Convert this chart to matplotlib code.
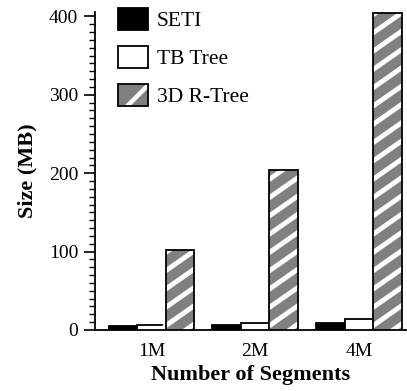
import matplotlib
matplotlib.use("Agg")
import matplotlib.pyplot as plt
import numpy as np
from matplotlib.patches import Patch
from matplotlib.lines import Line2D
from matplotlib.transforms import IdentityTransform
from matplotlib.ticker import MultipleLocator

categories = ["1M", "2M", "4M"]
seti = [5, 7, 9]
tb_tree = [6, 9, 14]
rtree_3d = [102, 204, 404]
series_names = ["SETI", "TB Tree", "3D R-Tree"]

plt.rcParams['font.family'] = ['Liberation Serif', 'DejaVu Serif']
plt.rcParams['hatch.linewidth'] = 3.2

W, H = 407, 391
fig = plt.figure(figsize=(W / 100, H / 100), dpi=100)
ax = fig.add_axes([95 / W, 1 - 330 / H, 1 - 95 / W, (330 - 11.7) / H])

x = np.arange(len(categories))
bw = 0.275
lw = 1.3
grey = '#808080'

ax.set_xlim(-0.545, 2.464)
ax.set_ylim(0, 406)

ax.bar(x - bw, seti, bw, color='black', edgecolor='black', linewidth=lw, zorder=3)
ax.bar(x, tb_tree, bw, color='white', edgecolor='black', linewidth=lw, zorder=3)
rbars = ax.bar(x + bw, rtree_3d, bw, color=grey, edgecolor='none', linewidth=0, zorder=3)
ax.bar(x + bw, rtree_3d, bw, fill=False, edgecolor='black', linewidth=lw, zorder=5)

# diagonal white stripes (in pixel space), clipped to each bar
period = 18.3
slope = 0.7
for bar in rbars:
    (px0, py0) = ax.transData.transform((bar.get_x(), 0))
    (px1, py1) = ax.transData.transform((bar.get_x() + bar.get_width(), bar.get_height()))
    span = slope * (px1 - px0)
    c = py0 - span - period + 6
    while c < py1 + period:
        ln = Line2D([px0 - 2, px1 + 2], [c - 2 * slope, c + span + 2 * slope],
                    transform=IdentityTransform(), color='white', linewidth=3.5,
                    solid_capstyle='butt', zorder=4)
        ln.set_clip_path(bar)
        ax.add_artist(ln)
        c += period

ax.set_xticks(x)
ax.set_xticklabels(categories)
ax.yaxis.set_major_locator(MultipleLocator(100))
ax.yaxis.set_minor_locator(MultipleLocator(10))
ax.tick_params(axis='x', length=0, pad=9, labelsize=14)
ax.tick_params(axis='y', which='major', length=8, width=1.2, direction='out', pad=4, labelsize=14)
ax.tick_params(axis='y', which='minor', length=4, width=1.0, direction='out')
for s in ['top', 'right']:
    ax.spines[s].set_visible(False)
for s in ['left', 'bottom']:
    ax.spines[s].set_linewidth(1.3)

ax.set_xlabel("Number of Segments", fontsize=16, fontweight='bold', labelpad=4)
ax.set_ylabel("Size (MB)", fontsize=16, fontweight='bold', labelpad=8)

h1 = Patch(facecolor='black', edgecolor='black', linewidth=lw)
h2 = Patch(facecolor='white', edgecolor='black', linewidth=lw)
h3a = Patch(facecolor=grey, edgecolor='white', linewidth=0, hatch='/')
h3b = Patch(fill=False, edgecolor='black', linewidth=lw)
leg = ax.legend([h1, h2, (h3a, h3b)], series_names, loc='upper left',
                bbox_to_anchor=(118 / W, 1 - 8 / H), bbox_transform=fig.transFigure,
                frameon=False, fontsize=15.5, handlelength=1.4, handleheight=1.2,
                handletextpad=0.4, labelspacing=0.68, borderpad=0, borderaxespad=0)

fig.savefig("out.png", dpi=100)
